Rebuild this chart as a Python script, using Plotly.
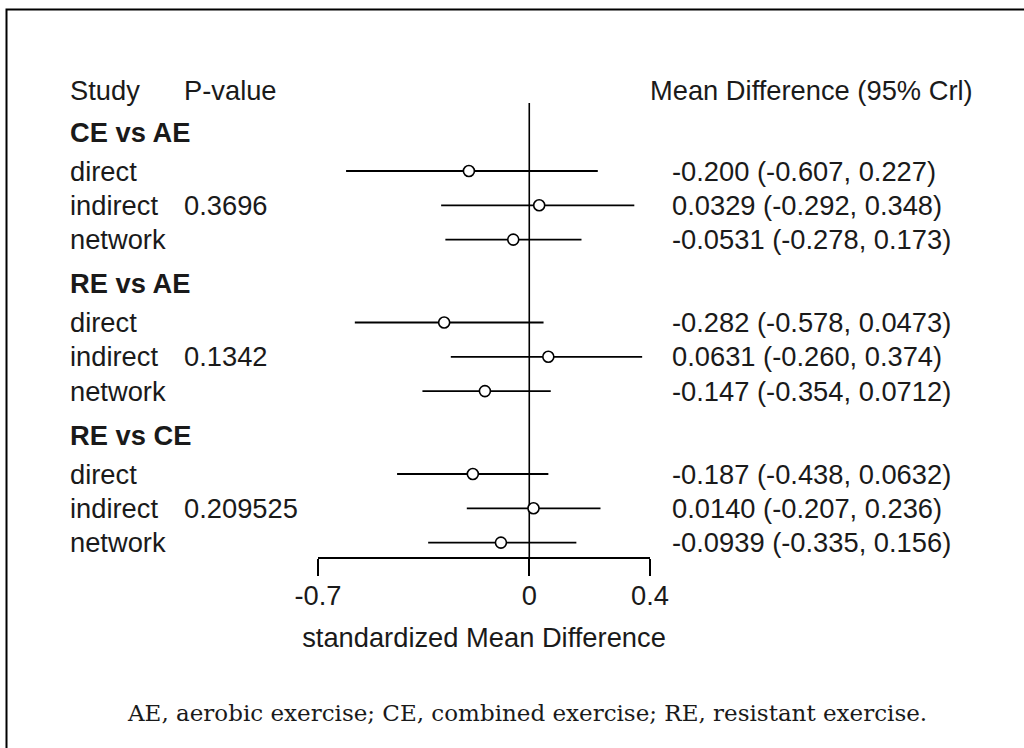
import plotly.graph_objects as go

# ---- data ----
groups = ["CE vs AE", "RE vs AE", "RE vs CE"]
p_values = ["0.3696", "0.1342", "0.209525"]
evidence = ["direct", "indirect", "network"]
mean_diff = [[-0.200, 0.0329, -0.0531],
             [-0.282, 0.0631, -0.147],
             [-0.187, 0.0140, -0.0939]]
lower_cri = [[-0.607, -0.292, -0.278],
             [-0.578, -0.260, -0.354],
             [-0.438, -0.207, -0.335]]
upper_cri = [[0.227, 0.348, 0.173],
             [0.0473, 0.374, 0.0712],
             [0.0632, 0.236, 0.156]]
tick_values = [-0.7, 0, 0.4]
tick_labels = ["-0.7", "0", "0.4"]
x_title = "standardized Mean Difference"
caption = "AE, aerobic exercise; CE, combined exercise; RE, resistant exercise."

# ---- layout helpers (pixel geometry of the page) ----
W, H = 1024, 748
FONT = "Liberation Sans, Arial, sans-serif"
FS = 27.3
AXIS_Y = 558


def row_y(g, r):
    return 171 + g * 151.5 + r * 34.3


def header_y(g):
    return row_y(g, 0) - 39


def px(x):
    return x / W


def py(y):
    return 1 - y / H


fig = go.Figure()

# interval lines
lx, ly = [], []
mx, my = [], []
for g in range(len(groups)):
    for r in range(len(evidence)):
        y = row_y(g, r)
        lx += [lower_cri[g][r], upper_cri[g][r], None]
        ly += [y, y, None]
        mx.append(mean_diff[g][r])
        my.append(y)

fig.add_trace(go.Scatter(x=lx, y=ly, mode="lines",
                         line=dict(color="black", width=1.8),
                         hoverinfo="skip", showlegend=False))
fig.add_trace(go.Scatter(x=mx, y=my, mode="markers",
                         marker=dict(symbol="circle", size=11, color="white",
                                     line=dict(color="black", width=1.6)),
                         showlegend=False))

# zero reference line
fig.add_shape(type="line", xref="x", yref="y", x0=0, x1=0, y0=103, y1=AXIS_Y,
              line=dict(color="black", width=1.6), layer="below")

ann = []


def txt(x, y, s, bold=False, size=FS, family=FONT, xanchor="left"):
    ann.append(dict(x=px(x), y=py(y), xref="paper", yref="paper", text=("<b>%s</b>" % s) if bold else s,
                    showarrow=False, xanchor=xanchor, yanchor="middle",
                    font=dict(family=family, size=size, color="#1a1a1a")))


txt(68, 90, "Study")
txt(182, 90, "P-value")
txt(648, 90, "Mean Difference (95% Crl)")

for g, name in enumerate(groups):
    txt(68, header_y(g), name, bold=True)
    for r, ev in enumerate(evidence):
        y = row_y(g, r)
        txt(68, y, ev)
        if ev == "indirect":
            txt(182, y, p_values[g])
        lab = "%s (%s, %s)" % (format(mean_diff[g][r], "#.3g"),
                               format(lower_cri[g][r], "#.3g"),
                               format(upper_cri[g][r], "#.3g"))
        txt(670, y, lab)

txt(527, 713, caption, size=23, family="DejaVu Serif, serif", xanchor="center")

fig.update_layout(annotations=ann)

# outer frame (right/bottom edges fall outside the page)
fig.add_shape(type="rect", xref="paper", yref="paper",
              x0=px(6.5), x1=1.05, y0=-0.05, y1=py(9.5),
              line=dict(color="black", width=2), fillcolor="rgba(0,0,0,0)")

fig.update_layout(
    width=W, height=H,
    margin=dict(l=0, r=0, t=0, b=0, pad=0),
    paper_bgcolor="white", plot_bgcolor="white",
    showlegend=False,
    xaxis=dict(domain=[318 / W, 650 / W], range=[-0.7, 0.4],
               anchor="free", position=py(AXIS_Y),
               tickmode="array", tickvals=tick_values, ticktext=tick_labels,
               ticks="outside", ticklen=17, tickwidth=1.6, tickcolor="black",
               ticklabelstandoff=-4,
               showline=True, linecolor="black", linewidth=1.6,
               showgrid=False, zeroline=False, automargin=False,
               tickfont=dict(family=FONT, size=FS, color="#1a1a1a"),
               title=dict(text=x_title, standoff=17,
                          font=dict(family=FONT, size=FS, color="#1a1a1a"))),
    yaxis=dict(domain=[0, 1], range=[H, 0], visible=False,
               showgrid=False, zeroline=False, fixedrange=True),
)

fig.write_html("out.html",
               config={"displayModeBar": False},
               post_script="document.body.style.margin='0';document.body.style.overflow='hidden';")
